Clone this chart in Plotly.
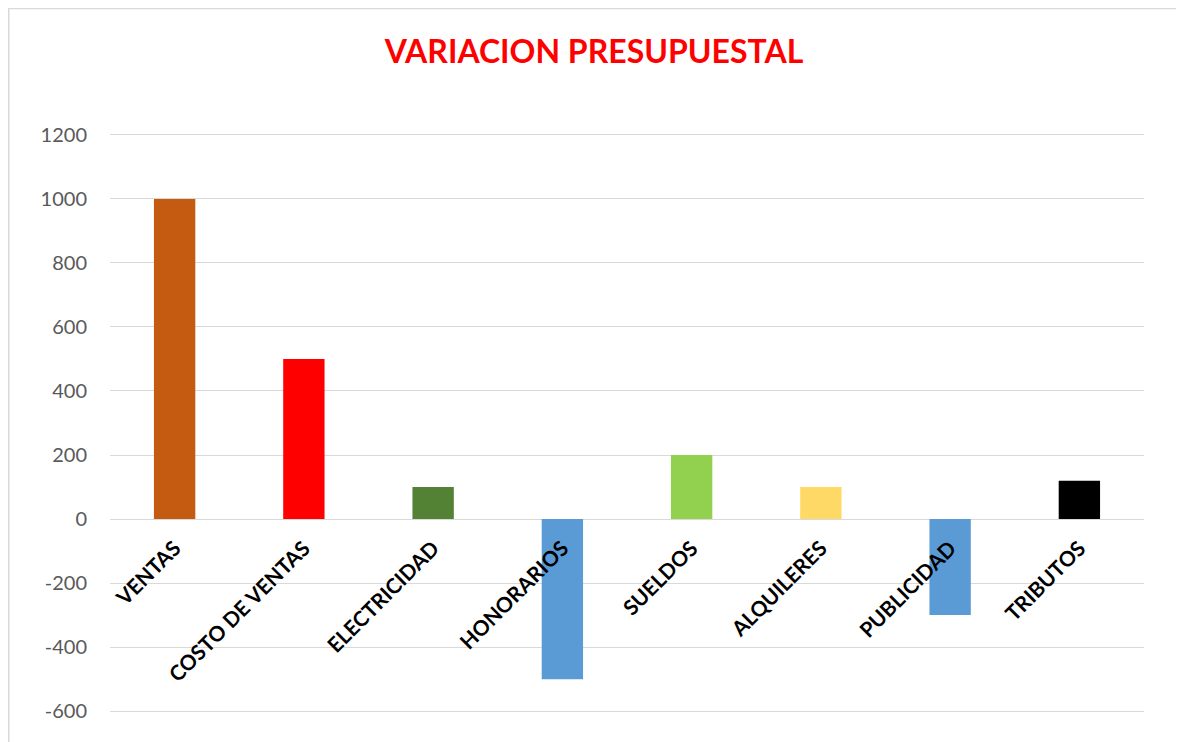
import plotly.graph_objects as go

categories = ["VENTAS", "COSTO DE VENTAS", "ELECTRICIDAD", "HONORARIOS",
              "SUELDOS", "ALQUILERES", "PUBLICIDAD", "TRIBUTOS"]
values = [1000, 500, 100, -500, 200, 100, -300, 120]
colors = ["#C55A11", "#FF0000", "#548235", "#5B9BD5",
          "#92D050", "#FFD966", "#5B9BD5", "#000000"]
y_ticks = [-600, -400, -200, 0, 200, 400, 600, 800, 1000, 1200]
y_tick_text = [str(v) for v in y_ticks]

# page body has an 8px offset; figure origin sits at (8, 8) of the window
W, H = 1176, 734
ymin, ymax = -612, 1212
scale = 576 / 1800  # px per unit
ml, mr = 102, 40
mt = 127 - (ymax - 1200) * scale
mb = H - (703 + (-600 - ymin) * scale)
pw, ph = W - ml - mr, H - mt - mb
FONT = "Lato, Open Sans, sans-serif"

fig = go.Figure(go.Bar(
    x=categories, y=values,
    marker=dict(color=colors, line=dict(width=0)),
    width=0.32,
))

fig.update_layout(
    width=W, height=H,
    margin=dict(l=ml, r=mr, t=mt, b=mb),
    paper_bgcolor="white", plot_bgcolor="white",
    showlegend=False,
    title=dict(text="<b>VARIACION PRESUPUESTAL</b>", x=586 / W, xanchor="center",
               y=1 - 44 / H, yanchor="middle",
               font=dict(family=FONT, size=32, color="#FF0000")),
    xaxis=dict(
        anchor="free", position=(0 - ymin) / (ymax - ymin),
        tickangle=-45, showgrid=False, showline=False, ticks="",
        tickfont=dict(family=FONT, size=21, color="#000000", weight="bold"),
        ticklabelstandoff=12,
        range=[-0.5, 7.5],
    ),
    yaxis=dict(
        range=[ymin, ymax], tickvals=y_ticks, ticktext=y_tick_text,
        showgrid=True, gridcolor="#D9D9D9", gridwidth=1.3,
        zeroline=True, zerolinecolor="#D9D9D9", zerolinewidth=1.3,
        showline=False, ticks="",
        tickfont=dict(family=FONT, size=20, color="#595959"),
        ticklabelstandoff=22,
    ),
    font=dict(family=FONT),
)

# chart border
fig.add_shape(type="rect", xref="paper", yref="paper",
              x0=(0.75 - ml) / pw, x1=(W + 10 - ml) / pw,
              y0=-0.2, y1=(H - mb - 0.75) / ph,
              line=dict(color="#D9D9D9", width=1.5), layer="below")

fig.write_html("out.html")
